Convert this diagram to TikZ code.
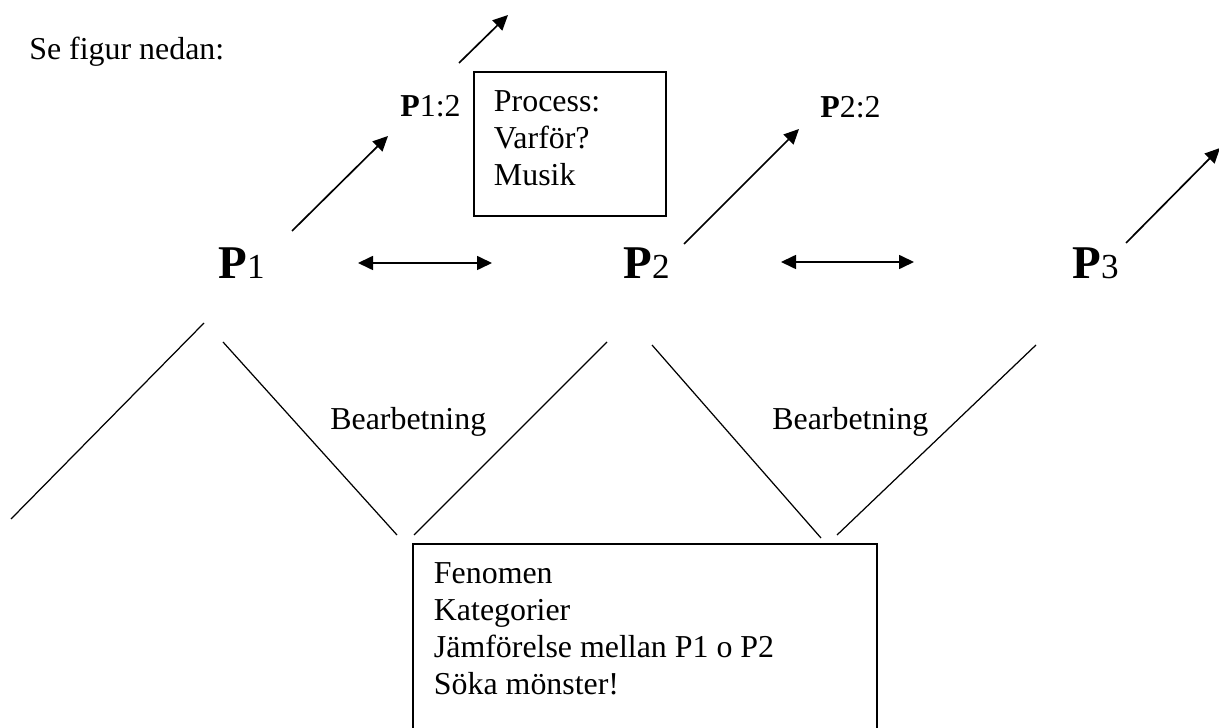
\documentclass[tikz,border=0pt]{standalone}
\usepackage{fontspec}
\setmainfont{Liberation Serif}
\usetikzlibrary{arrows.meta}
\newcommand{\bigP}[1]{{\fontsize{26.7}{30}\selectfont\bfseries P}{\fontsize{20}{24}\selectfont #1}}

\begin{document}
\begin{tikzpicture}[
    txt/.style={font=\fontsize{18.15}{21.05}\selectfont, inner sep=0pt, anchor=base west},
    box/.style={draw, line width=1.1pt, anchor=north west, align=left, inner xsep=0.4cm,
                inner ysep=0pt, text height=0.8cm, font=\fontsize{18.15}{21.05}\selectfont,
                execute at begin node={\spaceskip=0pt\xspaceskip=0pt\relax}},
    arrow/.style={-{Triangle[length=0.3cm, width=0.28cm]}, line width=0.95pt},
    dblarrow/.style={{Triangle[length=0.3cm, width=0.28cm]}-{Triangle[length=0.3cm, width=0.28cm]}, line width=0.95pt},
    leg/.style={line width=0.7pt}
]
\useasboundingbox (0,0) rectangle (24.38,14.54);

% texts
\node[txt] (intro) at (0.58,13.34) {Se figur nedan:};
\node[txt] (p12) at (8.00,12.20) {{\bfseries P}1:2};
\node[txt] (p22) at (16.40,12.18) {{\bfseries P}2:2};
\node[txt] (p1) at (4.36,8.96) {\bigP{1}};
\node[txt] (p2) at (12.46,8.96) {\bigP{2}};
\node[txt] (p3) at (21.44,8.96) {\bigP{3}};
\node[txt] (bearb1) at (6.60,5.94) {Bearbetning};
\node[txt] (bearb2) at (15.44,5.94) {Bearbetning};

% boxes
\node[box, text width=3.04cm, text depth=2.08cm] (process) at (9.46,13.12)
    {Process:\\ Varför?\\ Musik};
\node[box, text width=8.44cm, text depth=3.54cm, inner xsep=0.42cm] (fenomen) at (8.24,3.68)
    {Fenomen\\ Kategorier\\ Jämförelse mellan P1 o P2\\ Söka mönster!};

% arrow ends
\coordinate (top0) at (9.18,13.28);   \coordinate (top1) at (10.16,14.24);
\coordinate (up1a) at (5.84,9.92);    \coordinate (up1b) at (7.76,11.82);
\coordinate (up2a) at (13.68,9.66);   \coordinate (up2b) at (15.98,11.96);
\coordinate (up3a) at (22.52,9.68);   \coordinate (up3b) at (24.40,11.58);
\coordinate (dbl1a) at (7.16,9.28);   \coordinate (dbl1b) at (9.84,9.28);
\coordinate (dbl2a) at (15.62,9.30);  \coordinate (dbl2b) at (18.28,9.30);

\draw[arrow] (top0) -- (top1);
\draw[arrow] (up1a) -- (up1b);
\draw[arrow] (up2a) -- (up2b);
\draw[arrow] (up3a) -- (up3b);
\draw[dblarrow] (dbl1a) -- (dbl1b);
\draw[dblarrow] (dbl2a) -- (dbl2b);

% slanted lines
\coordinate (la0) at (4.08,8.08);   \coordinate (la1) at (0.22,4.16);
\coordinate (lb0) at (4.46,7.70);   \coordinate (lb1) at (7.94,3.84);
\coordinate (lc0) at (8.28,3.84);   \coordinate (lc1) at (12.14,7.70);
\coordinate (ld0) at (13.04,7.64);  \coordinate (ld1) at (16.42,3.78);
\coordinate (le0) at (16.74,3.84);  \coordinate (le1) at (20.72,7.64);

\draw[leg] (la0) -- (la1);
\draw[leg] (lb0) -- (lb1);
\draw[leg] (lc0) -- (lc1);
\draw[leg] (ld0) -- (ld1);
\draw[leg] (le0) -- (le1);
\end{tikzpicture}
\end{document}
